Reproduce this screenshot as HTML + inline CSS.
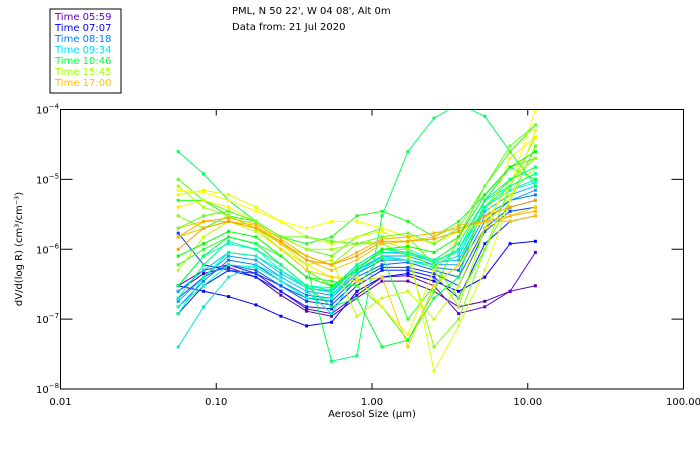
<!DOCTYPE html>
<html><head><meta charset="utf-8"><style>
html,body{margin:0;padding:0;background:#fff;}
svg{display:block;font-family:"DejaVu Sans","Liberation Sans",sans-serif;}
</style></head><body>
<svg id="chart" width="700" height="450" viewBox="0 0 700 450">
<rect x="50" y="9" width="71" height="84" fill="none" stroke="#000" stroke-width="1"/>
<g id="legend" font-size="10"></g>
<text x="232" y="14" font-size="10">PML, N 50 22', W 04 08', Alt 0m</text>
<text x="232" y="30" font-size="10">Data from: 21 Jul 2020</text>
<g id="series"></g>
<rect x="60.5" y="109.5" width="623" height="279.5" fill="none" stroke="#000" stroke-width="1"/>
<g id="axes"></g>
<text x="372" y="417" font-size="10" text-anchor="middle">Aerosol Size (μm)</text>
<text transform="translate(22,249) rotate(-90)" font-size="10" text-anchor="middle">dV/d(log R) (cm³/cm⁻³)</text>
</svg>
<script>
const sizes=[0.057,0.083,0.12,0.18,0.26,0.38,0.55,0.80,1.16,1.7,2.5,3.6,5.3,7.7,11.2];
const xTicks=[0.01,0.1,1,10,100];
const xTickLabels=["0.01","0.10","1.00","10.00","100.00"];
const yTickExps=[-4,-5,-6,-7,-8];
const legendLabels=["Time 05:59","Time 07:07","Time 08:18","Time 09:34","Time 10:46","Time 15:45","Time 17:00"];
const legendColors=["#6000c0","#0000ff","#0080ff","#00e0ff","#00ff40","#a0ff00","#ffc000"];
const seriesColors=["#5000b0","#6000d0","#0000ff","#0020ff","#0040ff","#0060ff","#0080ff","#00a0ff","#00c0ff","#00e0f0","#00ffe0","#00ffc0","#00ff60","#20ff20","#40ff00","#60ff00","#30ff30","#00ff40","#80ff00","#a0ff00","#c0ff00","#e0ff00","#ffff00","#fff000","#ffd000","#ffc000","#ffb000","#ffa000","#00ff80","#00ffa0","#60ff20","#00ff00"];
const s1=[2.5e-7,4.5e-7,5.5e-7,4e-7,2.2e-7,1.3e-7,1.1e-7,2e-7,3.5e-7,3.5e-7,2.5e-7,1.5e-7,1.8e-7,2.5e-7,3e-7];
const s2=[3e-7,5e-7,6e-7,4.5e-7,2.5e-7,1.4e-7,1.2e-7,2.2e-7,4e-7,4.2e-7,3e-7,1.2e-7,1.5e-7,2.5e-7,9e-7];
const s3=[3e-7,2.5e-7,2.1e-7,1.6e-7,1.1e-7,8e-8,9e-8,2.5e-7,4e-7,4.5e-7,3.5e-7,2.5e-7,4e-7,1.2e-6,1.3e-6];
const s4=[1.2e-7,3e-7,5e-7,4e-7,2.5e-7,1.5e-7,1.4e-7,3e-7,5e-7,5e-7,4e-7,2e-7,1.2e-6,2.5e-6,3e-6];
const s5=[1.7e-6,6e-7,5e-7,4.5e-7,3e-7,1.8e-7,1.6e-7,3.5e-7,5.5e-7,5.5e-7,4.5e-7,3e-7,1.8e-6,3.5e-6,4e-6];
const s6=[2e-7,4e-7,6e-7,5e-7,3e-7,2e-7,1.8e-7,4e-7,6e-7,6.5e-7,5e-7,4e-7,2e-6,4e-6,5e-6];
const s7=[1.5e-7,3.5e-7,7e-7,6e-7,3.5e-7,2.2e-7,2e-7,4.5e-7,7e-7,7e-7,5.5e-7,5e-7,2.5e-6,5e-6,6e-6];
const s8=[1.8e-7,4e-7,8e-7,7e-7,4e-7,2.5e-7,2.2e-7,5e-7,8e-7,8e-7,6e-7,6e-7,3e-6,5e-6,7e-6];
const s9=[2.5e-7,5e-7,9e-7,8e-7,4.5e-7,2.8e-7,2.5e-7,5.5e-7,9e-7,9e-7,6.5e-7,7e-7,3.5e-6,6e-6,8e-6];
const s10=[4e-8,1.5e-7,4e-7,6e-7,4e-7,2.5e-7,1.2e-7,4.5e-7,8e-7,7e-7,6e-7,8e-7,4e-6,7e-6,1e-5];
const s11=[3e-7,8e-7,1.2e-6,1e-6,5e-7,3e-7,2.8e-7,6e-7,1e-6,1e-6,7e-7,9e-7,4e-6,7e-6,9e-6];
const s12=[1.5e-7,3e-7,6e-7,5.5e-7,3.5e-7,2e-7,2e-7,5e-7,7.5e-7,7e-7,5.5e-7,1e-6,5e-6,8e-6,1.2e-5];
const s13=[2.5e-5,1.2e-5,5e-6,2.5e-6,1.2e-6,6e-7,2.5e-8,3e-8,3e-6,2.5e-5,7.5e-5,1.2e-4,8e-5,2.5e-5,8e-6];
const s14=[5e-6,5e-6,3e-6,2.5e-6,1.5e-6,1.2e-6,1.5e-6,3e-6,3.5e-6,2.5e-6,1.5e-6,2.5e-6,6e-6,1.5e-5,2e-5];
const s15=[1.5e-6,2e-6,3e-6,2e-6,1e-6,5e-7,3e-7,3e-7,1.5e-7,5e-8,2.5e-7,1.5e-6,8e-6,2.5e-5,6e-5];
const s16=[1e-5,5e-6,3.5e-6,2.5e-6,1.5e-6,1e-6,8e-7,1.5e-6,2e-6,1.5e-6,6e-7,2e-7,1e-6,5e-6,3e-5];
const s17=[6e-7,1e-6,1.5e-6,1.2e-6,8e-7,4e-7,3.5e-7,3e-7,8e-7,1e-7,3e-7,6e-7,4e-6,1e-5,2e-5];
const s18=[3e-7,8e-7,1.5e-6,1.2e-6,6e-7,3e-7,1.5e-7,2e-7,4e-8,5e-8,2e-7,4e-7,5e-6,1.5e-5,1e-5];
const s19=[3e-6,2e-6,2.5e-6,2e-6,1.2e-6,8e-7,6e-7,1.2e-6,1.2e-6,8e-7,4e-8,1e-7,1e-6,8e-6,4e-5];
const s20=[8e-6,4e-6,3e-6,2e-6,1.5e-6,1e-6,1e-6,1.2e-6,1.3e-6,1e-6,5e-7,1.5e-7,2e-6,1e-5,2e-5];
const s21=[5e-7,1.5e-6,2.5e-6,1.8e-6,1e-6,6e-7,7e-7,1.1e-7,2e-7,2.5e-7,1e-7,3e-7,2e-6,6e-6,1.5e-5];
const s22=[6e-6,7e-6,6e-6,4e-6,2.5e-6,1.5e-6,1.2e-6,1.5e-6,1.8e-6,1.2e-6,1.8e-8,8e-8,5e-7,5e-6,5e-5];
const s23=[7e-6,6.5e-6,5e-6,3.5e-6,2.5e-6,2e-6,2.5e-6,2.5e-6,2e-6,1.5e-6,1.2e-6,1.8e-6,2.5e-6,8e-6,1e-4];
const s24=[4e-6,5e-6,4e-6,2.5e-6,1.2e-6,6e-7,4e-7,4e-7,1.5e-7,6e-8,5e-7,1.5e-6,2.5e-6,2e-5,4e-5];
const s25=[1.5e-6,2e-6,2.5e-6,2e-6,1e-6,5e-7,4e-7,3.5e-7,4e-7,4e-8,3e-7,6e-7,2e-6,3e-6,4e-6];
const s26=[2e-6,2.5e-6,2.5e-6,2.2e-6,1.2e-6,7e-7,5e-7,7e-7,1.2e-6,1.3e-6,1.5e-6,2.2e-6,2.5e-6,2.5e-6,3e-6];
const s27=[1.5e-6,2.5e-6,2.8e-6,2.3e-6,1.4e-6,8e-7,6e-7,9e-7,1.4e-6,1.5e-6,1.7e-6,2e-6,2.5e-6,3e-6,3.5e-6];
const s28=[1e-6,2e-6,2.5e-6,2e-6,1.3e-6,7e-7,6e-7,8e-7,1.3e-6,1.3e-6,1.4e-6,1.8e-6,3e-6,4e-6,5e-6];
const s29=[2e-7,6e-7,1.3e-6,1e-6,6e-7,3e-7,2.6e-7,6e-7,1e-6,9e-7,7e-7,1.2e-6,5e-6,1e-5,1.5e-5];
const s30=[1.2e-7,4e-7,9e-7,8e-7,5e-7,2.8e-7,2.4e-7,5.5e-7,9e-7,8.5e-7,6.5e-7,1e-6,4e-6,8e-6,1.2e-5];
const s31=[2e-6,3e-6,3.5e-6,2.5e-6,1.5e-6,1.5e-6,1.3e-6,1.2e-6,1.5e-6,1.7e-6,1.2e-6,2e-6,8e-6,3e-5,6e-5];
const s32=[8e-7,1.2e-6,1.8e-6,1.5e-6,8e-7,4e-7,3e-7,5e-7,1e-6,1.1e-6,9e-7,1.5e-6,6e-6,1.5e-5,2.5e-5];
const allSeries=[s1,s2,s3,s4,s5,s6,s7,s8,s9,s10,s11,s12,s13,s14,s15,s16,s17,s18,s19,s20,s21,s22,s23,s24,s25,s26,s27,s28,s29,s30,s31,s32];

const NS="http://www.w3.org/2000/svg";
const X0=60.5,X1=683.5,Y0=109.5,Y1=389;
function xScale(v){return X0+(Math.log10(v)+2)/4*(X1-X0);}
function yScale(v){return Y0+(-4-Math.log10(v))/4*(Y1-Y0);}
const svg=document.getElementById('chart');
const defs=document.createElementNS(NS,'defs');
defs.innerHTML='<clipPath id="pc"><rect x="60.5" y="109.5" width="623" height="279.5"/></clipPath>';
svg.insertBefore(defs,svg.firstChild);

const lg=document.getElementById('legend');
legendLabels.forEach((t,i)=>{
  const el=document.createElementNS(NS,'text');
  el.setAttribute('x',55);el.setAttribute('y',20+i*11);
  el.setAttribute('fill',legendColors[i]);
  el.textContent=t;
  
  
  lg.appendChild(el);
});

const sg=document.getElementById('series');
sg.setAttribute('clip-path','url(#pc)');
allSeries.forEach((vals,si)=>{
  const col=seriesColors[si%seriesColors.length];
  const g=document.createElementNS(NS,'g');
  
  
  const pl=document.createElementNS(NS,'polyline');
  pl.setAttribute('points',vals.map((v,i)=>xScale(sizes[i]).toFixed(1)+','+yScale(v).toFixed(1)).join(' '));
  pl.setAttribute('fill','none');pl.setAttribute('stroke',col);pl.setAttribute('stroke-width','1');
  
  
  g.appendChild(pl);
  vals.forEach((v,i)=>{
    const r=document.createElementNS(NS,'rect');
    r.setAttribute('x',(xScale(sizes[i])-1.5).toFixed(1));
    r.setAttribute('y',(yScale(v)-1.5).toFixed(1));
    r.setAttribute('width',3);r.setAttribute('height',3);r.setAttribute('fill',col);
    
    
    g.appendChild(r);
  });
  sg.appendChild(g);
});

const ax=document.getElementById('axes');
xTicks.forEach((t,i)=>{
  const x=xScale(t);
  const l=document.createElementNS(NS,'line');
  l.setAttribute('x1',x);l.setAttribute('x2',x);l.setAttribute('y1',Y1);l.setAttribute('y2',Y1-6);l.setAttribute('stroke','#000');
  
  
  ax.appendChild(l);
  const l2=document.createElementNS(NS,'line');
  l2.setAttribute('x1',x);l2.setAttribute('x2',x);l2.setAttribute('y1',Y0);l2.setAttribute('y2',Y0+6);l2.setAttribute('stroke','#000');
  
  
  ax.appendChild(l2);
  const tx=document.createElementNS(NS,'text');
  tx.setAttribute('x',x);tx.setAttribute('y',405);tx.setAttribute('font-size','10');tx.setAttribute('text-anchor','middle');
  tx.textContent=xTickLabels[i];
  
  
  ax.appendChild(tx);
});
yTickExps.forEach(e=>{
  const y=yScale(Math.pow(10,e));
  const l=document.createElementNS(NS,'line');
  l.setAttribute('x1',X0);l.setAttribute('x2',X0+12);l.setAttribute('y1',y);l.setAttribute('y2',y);l.setAttribute('stroke','#000');
  
  
  ax.appendChild(l);
  const l2=document.createElementNS(NS,'line');
  l2.setAttribute('x1',X1);l2.setAttribute('x2',X1-12);l2.setAttribute('y1',y);l2.setAttribute('y2',y);l2.setAttribute('stroke','#000');
  
  
  ax.appendChild(l2);
  const tx=document.createElementNS(NS,'text');
  tx.setAttribute('x',36);tx.setAttribute('y',y+4);tx.setAttribute('font-size','10');
  tx.innerHTML='10<tspan dy="-5" font-size="7">'+(e===-4?'−4':'−'+(-e))+'</tspan>';
  
  
  ax.appendChild(tx);
});
</script>
</body></html>
